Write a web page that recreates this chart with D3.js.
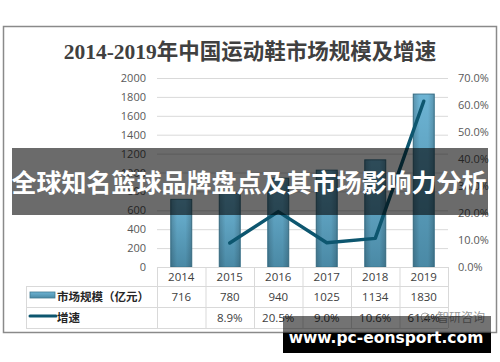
<!DOCTYPE html>
<html><head><meta charset="utf-8">
<script src="https://cdn.jsdelivr.net/npm/d3@7"></script>
<style>html,body{margin:0;padding:0;background:#fff;}svg{display:block;}</style>
</head><body>
<svg id="c" width="500" height="362"></svg>
<script>
const years = ["2014","2015","2016","2017","2018","2019"];
const marketSize = [716, 780, 940, 1025, 1134, 1830];
const growth = [null, 8.9, 20.5, 9.0, 10.6, 61.4];
const leftTicks = [0,200,400,600,800,1000,1200,1400,1600,1800,2000];
const rightTicks = [0,10,20,30,40,50,60,70];
const seriesNames = ["市场规模（亿元）", "增速"];
const titleText = "2014-2019年中国运动鞋市场规模及增速";
const overlayText = "全球知名篮球品牌盘点及其市场影响力分析";
const siteText = "www.pc-eonsport.com";
const wmText = "智研咨询";

(function(){
const svg = d3.select("#c");
const defs = svg.append("defs");
const g1 = defs.append("linearGradient").attr("id","barG").attr("x1",0).attr("y1",0).attr("x2",0).attr("y2",1);
g1.append("stop").attr("offset","0%").attr("stop-color","#6db4d4");
g1.append("stop").attr("offset","100%").attr("stop-color","#4a89a5");
const g2 = defs.append("linearGradient").attr("id","barH").attr("x1",0).attr("y1",0).attr("x2",1).attr("y2",0);
g2.append("stop").attr("offset","0%").attr("stop-color","#000").attr("stop-opacity",0.18);
g2.append("stop").attr("offset","30%").attr("stop-color","#000").attr("stop-opacity",0);
g2.append("stop").attr("offset","70%").attr("stop-color","#000").attr("stop-opacity",0);
g2.append("stop").attr("offset","100%").attr("stop-color","#000").attr("stop-opacity",0.18);

// outer frame
svg.append("rect").attr("x",3.5).attr("y",26.5).attr("width",493).attr("height",306)
  .attr("fill","#fff").attr("stroke","#8a8a8a").attr("stroke-width",1.5);

// title
svg.append("text").attr("x",250).attr("y",59).attr("text-anchor","middle")
  .attr("font-family","'Liberation Serif','Noto Sans CJK SC',serif").attr("font-size",21.5)
  .attr("font-weight","bold").attr("fill","#404040").text(titleText);

const pLeft = 157, pRight = 448, pTop = 78, base = 267;
const x = d3.scaleBand().domain(years).range([pLeft, pRight]).padding(0);
const y = d3.scaleLinear().domain([0,2000]).range([base, pTop]);
const y2 = d3.scaleLinear().domain([0,70]).range([base, pTop]);

// gridlines
svg.append("g").selectAll("line").data(leftTicks.filter(d=>d>0)).join("line")
  .attr("x1",pLeft).attr("x2",pRight).attr("y1",d=>y(d)+0.5).attr("y2",d=>y(d)+0.5)
  .attr("stroke","#d9d9d9").attr("stroke-width",1);

// axes
const fontTick = "'Open Sans','Noto Sans',sans-serif";
const ax = svg.append("g").attr("transform",`translate(146,0)`)
  .call(d3.axisLeft(y).tickValues(leftTicks).tickSize(0).tickPadding(0).tickFormat(d3.format("d")));
ax.select(".domain").remove();
ax.selectAll("text").attr("font-family",fontTick).attr("font-size",11).attr("fill","#595959");
const ax2 = svg.append("g").attr("transform",`translate(458,0)`)
  .call(d3.axisRight(y2).tickValues(rightTicks).tickSize(0).tickPadding(0).tickFormat(d=>d.toFixed(1)+"%"));
ax2.select(".domain").remove();
ax2.selectAll("text").attr("font-family",fontTick).attr("font-size",11).attr("fill","#595959");

// bars
const bw = 21;
const bars = svg.append("g");
bars.selectAll("rect.b").data(years).join("rect").attr("class","b")
  .attr("x",d=>x(d)+x.bandwidth()/2-bw/2).attr("width",bw)
  .attr("y",(d,i)=>y(marketSize[i])).attr("height",(d,i)=>base-y(marketSize[i]))
  .attr("fill","url(#barG)").attr("stroke","#3f7890").attr("stroke-width",1);
bars.selectAll("rect.h").data(years).join("rect").attr("class","h")
  .attr("x",d=>x(d)+x.bandwidth()/2-bw/2).attr("width",bw)
  .attr("y",(d,i)=>y(marketSize[i])).attr("height",(d,i)=>base-y(marketSize[i]))
  .attr("fill","url(#barH)");

// line
const lineData = years.map((d,i)=>({yr:d,v:growth[i]})).filter(d=>d.v!==null);
svg.append("path").datum(lineData)
  .attr("d", d3.line().x(d=>x(d.yr)+x.bandwidth()/2).y(d=>y2(d.v)))
  .attr("fill","none").attr("stroke","#0d566f").attr("stroke-width",3.5)
  .attr("stroke-linejoin","round").attr("stroke-linecap","round");

// table
const tb = svg.append("g");
const tl = 26, r1 = 286, r2 = 307, r3 = 328;
const gridC = "#d9d9d9";
tb.append("line").attr("x1",pLeft).attr("x2",pRight).attr("y1",base+0.5).attr("y2",base+0.5).attr("stroke",gridC);
[r1,r2,r3].forEach(r=>tb.append("line").attr("x1",tl).attr("x2",pRight).attr("y1",r+0.5).attr("y2",r+0.5).attr("stroke",gridC));
tb.append("line").attr("x1",tl+0.5).attr("x2",tl+0.5).attr("y1",r1).attr("y2",r3).attr("stroke",gridC);
years.concat(["end"]).forEach((d,i)=>{
  const xx = d==="end" ? pRight : x(d);
  tb.append("line").attr("x1",xx+0.5).attr("x2",xx+0.5).attr("y1",base).attr("y2",r3).attr("stroke",gridC);
});
const tf = "'Open Sans','Noto Sans',sans-serif";
tb.selectAll("text.yr").data(years).join("text").attr("class","yr")
  .attr("x",d=>x(d)+x.bandwidth()/2).attr("y",281).attr("text-anchor","middle")
  .attr("font-family",tf).attr("font-size",11.5).attr("fill","#404040").text(d=>d);
tb.selectAll("text.v").data(years).join("text").attr("class","v")
  .attr("x",d=>x(d)+x.bandwidth()/2).attr("y",301).attr("text-anchor","middle")
  .attr("font-family",tf).attr("font-size",11.5).attr("fill","#404040").text((d,i)=>marketSize[i]);
tb.selectAll("text.gr").data(years).join("text").attr("class","gr")
  .attr("x",d=>x(d)+x.bandwidth()/2).attr("y",322).attr("text-anchor","middle")
  .attr("font-family",tf).attr("font-size",11.5).attr("fill","#404040").text((d,i)=>growth[i]===null?"":growth[i].toFixed(1)+"%");
// legend
tb.append("rect").attr("x",30).attr("y",292).attr("width",25).attr("height",6)
  .attr("fill","url(#barG)").attr("stroke","#3f7890").attr("stroke-width",0.8);
tb.append("line").attr("x1",30).attr("x2",56).attr("y1",316).attr("y2",316)
  .attr("stroke","#0d566f").attr("stroke-width",3).attr("stroke-linecap","round");
tb.append("text").attr("x",57).attr("y",301).attr("font-family","'Noto Sans CJK SC',sans-serif")
  .attr("font-size",11.5).attr("font-weight","bold").attr("fill","#262626").text(seriesNames[0]);
tb.append("text").attr("x",57).attr("y",322).attr("font-family","'Noto Sans CJK SC',sans-serif")
  .attr("font-size",11.5).attr("font-weight","bold").attr("fill","#262626").text(seriesNames[1]);

// watermark small
svg.append("circle").attr("cx",425).attr("cy",317).attr("r",4).attr("fill","none").attr("stroke","#aaa").attr("stroke-width",1);
svg.append("text").attr("x",437).attr("y",322).attr("font-family","'Noto Sans CJK SC',sans-serif")
  .attr("font-size",12).attr("fill","#999").text(wmText);

// overlay band
svg.append("rect").attr("x",12).attr("y",148).attr("width",476).attr("height",67).attr("fill","rgba(0,0,0,0.58)");
svg.append("text").attr("x",249).attr("y",192).attr("text-anchor","middle")
  .attr("font-family","'Noto Sans CJK SC',sans-serif").attr("font-weight","bold").attr("font-size",25)
  .attr("fill","#fff").text(overlayText);

// bottom site band
svg.append("rect").attr("x",283).attr("y",316).attr("width",208).attr("height",17).attr("fill","rgba(0,0,0,0.55)");
svg.append("rect").attr("x",283).attr("y",333).attr("width",208).attr("height",20).attr("fill","#000");
svg.append("text").attr("x",386).attr("y",343).attr("text-anchor","middle")
  .attr("font-family","'DejaVu Sans',sans-serif").attr("font-weight","bold").attr("font-size",15.5)
  .attr("fill","#fff").text(siteText);
})();
</script>
</body></html>
